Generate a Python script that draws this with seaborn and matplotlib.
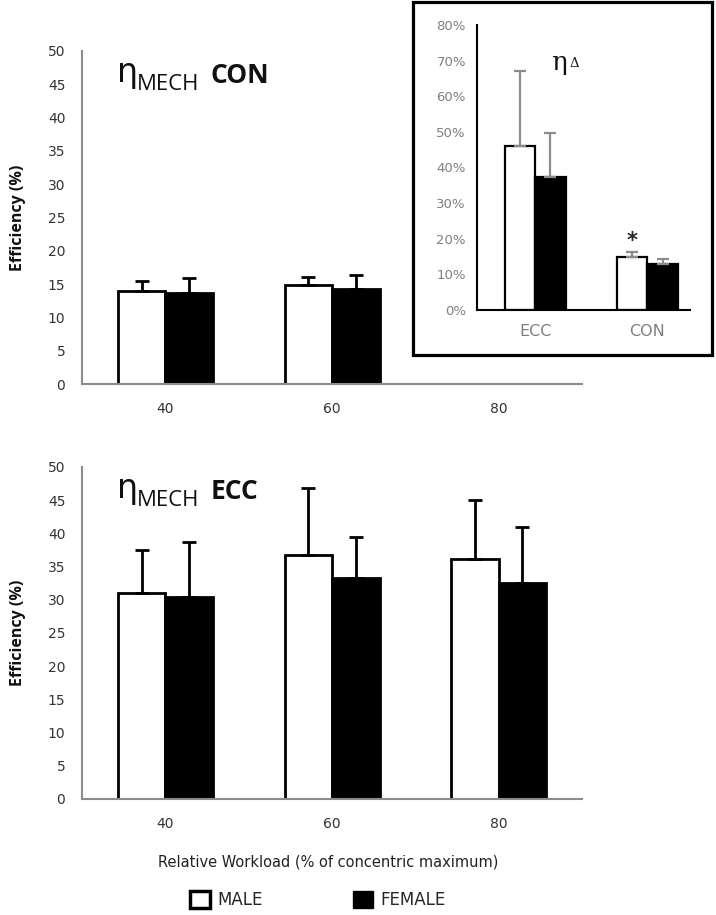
import numpy as np
import pandas as pd
import matplotlib
matplotlib.use("Agg")
import matplotlib.pyplot as plt
import seaborn as sns
from matplotlib.patches import Patch, Rectangle
from matplotlib.ticker import MultipleLocator, FixedLocator, PercentFormatter

# =========================
# DATA
# =========================
loads = ["40", "60", "80"]
sexes = ["MALE", "FEMALE"]

con_loads = ["40", "60"]
con_male = [14.0, 14.8]
con_male_sd = [1.5, 1.3]
con_female = [13.6, 14.2]
con_female_sd = [2.3, 2.1]

ecc_loads = ["40", "60", "80"]
ecc_male = [31.0, 36.8, 36.2]
ecc_male_sd = [6.5, 10.0, 8.8]
ecc_female = [30.4, 33.3, 32.5]
ecc_female_sd = [8.3, 6.2, 8.5]

delta_groups = ["ECC", "CON"]
delta_male = [0.46, 0.149]
delta_male_sd = [0.21, 0.014]
delta_female = [0.374, 0.13]
delta_female_sd = [0.122, 0.013]

W, H = 716, 915


def px(x, y):
    # pixel position -> figure fraction
    return x / W, 1 - y / H


def frame(groups, male, msd, female, fsd):
    rows = []
    for g, v, s in zip(groups, male, msd):
        rows.append({"group": g, "sex": "MALE", "value": v, "sd": s})
    for g, v, s in zip(groups, female, fsd):
        rows.append({"group": g, "sex": "FEMALE", "value": v, "sd": s})
    return pd.DataFrame(rows)


def bars(ax, df, order, width, lw, ecolor, elw, cap):
    sns.barplot(data=df, x="group", y="value", hue="sex", order=order,
                hue_order=sexes, palette={"MALE": "white", "FEMALE": "black"},
                edgecolor="black", linewidth=lw, width=width, errorbar=None,
                legend=False, ax=ax)
    for cont, sex in zip(ax.containers, sexes):
        sub = df[df.sex == sex].set_index("group")
        for p in cont.patches:
            xc = p.get_x() + p.get_width() / 2
            g = order[int(round(xc))]
            ax.errorbar(xc, p.get_height(), yerr=[[0], [sub.loc[g, "sd"]]],
                        fmt="none", ecolor=ecolor, elinewidth=elw,
                        capsize=cap, capthick=elw, zorder=3)


def style_main(ax):
    ax.set_ylim(0, 50)
    ax.set_xlim(-0.5, 2.5)
    ax.yaxis.set_major_locator(MultipleLocator(5))
    ax.set_xticks([0, 1, 2], loads)
    ax.xaxis.set_minor_locator(FixedLocator([-0.5, 0.5, 1.5, 2.5]))
    ax.tick_params(axis="x", which="major", length=0, pad=13,
                   labelsize=10, labelcolor="#333333")
    ax.tick_params(axis="x", which="minor", length=6, width=1.5,
                   color="#8c8c8c", direction="out")
    ax.tick_params(axis="y", length=5, width=1.5, color="#8c8c8c",
                   direction="out", pad=7, labelsize=10, labelcolor="#333333")
    for s in ["top", "right"]:
        ax.spines[s].set_visible(False)
    for s in ["left", "bottom"]:
        ax.spines[s].set_color("#8c8c8c")
        ax.spines[s].set_linewidth(1.5)
    ax.set_xlabel("")
    ax.set_ylabel("Efficiency (%)", fontweight="bold", fontsize=11.5,
                  family="Open Sans", color="#111111")
    ax.yaxis.set_label_coords(-0.112, 0.5)


sns.set_style("white")
plt.rcParams["font.family"] = ["DejaVu Sans"]

fig = plt.figure(figsize=(W / 100, H / 100), dpi=100)

# =========================
# TOP: CON
# =========================
ax1 = fig.add_axes([82 / W, 1 - 384 / H, 500 / W, 333 / H])
bars(ax1, frame(con_loads, con_male, con_male_sd, con_female, con_female_sd),
     loads, 0.57, 2.0, "black", 2.0, 5)
style_main(ax1)

# =========================
# BOTTOM: ECC
# =========================
ax2 = fig.add_axes([82 / W, 1 - 799 / H, 500 / W, 332 / H])
bars(ax2, frame(ecc_loads, ecc_male, ecc_male_sd, ecc_female, ecc_female_sd),
     loads, 0.57, 2.0, "black", 2.0, 5)
style_main(ax2)

# panel titles
for top, word, wx in [(0, "CON", 210), (416, "ECC", 211)]:
    fig.text(*px(117, 82 + top), "η", fontsize=24, va="baseline",
             color="#111111")
    fig.text(*px(137, 90 + top), "MECH", fontsize=16, va="baseline",
             family="Open Sans", color="#111111")
    fig.text(*px(wx, 83 + top), word, fontsize=19, va="baseline",
             family="Open Sans", fontweight="bold", color="#111111")

# =========================
# INSET: delta
# =========================
box = Rectangle(px(413, 355), 299 / W, 353 / H, transform=fig.transFigure,
                facecolor="white", edgecolor="black", linewidth=2.3, zorder=1)
fig.add_artist(box)

ax3 = fig.add_axes([477 / W, 1 - 310 / H, 213 / W, 285 / H], zorder=3)
ax3.set_facecolor("white")
bars(ax3, frame(delta_groups, delta_male, delta_male_sd,
                delta_female, delta_female_sd),
     delta_groups, 0.54, 1.6, "#8c8c8c", 1.6, 4)
ax3.set_xlim(-0.52, 1.38)
ax3.set_ylim(0, 0.8)
ax3.yaxis.set_major_locator(MultipleLocator(0.1))
ax3.yaxis.set_major_formatter(PercentFormatter(1, decimals=0))
ax3.tick_params(axis="x", length=0, pad=10, labelsize=11.5,
                labelcolor="#7f7f7f")
ax3.tick_params(axis="y", length=5, width=1.3, color="black",
                direction="out", pad=3, labelsize=9.5, labelcolor="#7f7f7f")
for s in ["top", "right"]:
    ax3.spines[s].set_visible(False)
for s in ["left", "bottom"]:
    ax3.spines[s].set_color("black")
    ax3.spines[s].set_linewidth(1.5)
ax3.set_xlabel("")
ax3.set_ylabel("")

male_con_x = ax3.containers[0].patches[1]
ax3.text(male_con_x.get_x() + male_con_x.get_width() / 2, 0.195, "*",
         ha="center", va="center", fontsize=15, fontweight="bold")

fig.text(*px(551, 70), "η", fontsize=19, family="DejaVu Serif",
         va="baseline", color="#111111")
fig.text(*px(569, 67), "Δ", fontsize=9.5, family="DejaVu Serif",
         va="baseline", color="#111111")

# =========================
# X LABEL + LEGEND
# =========================
fig.text(*px(328, 862), "Relative Workload (% of concentric maximum)",
         ha="center", va="center", fontsize=10.5, color="#222222")

handles = [Patch(facecolor="white", edgecolor="black", linewidth=2.5),
           Patch(facecolor="black", edgecolor="black", linewidth=1)]
fig.legend(handles, sexes, loc="center", bbox_to_anchor=px(318, 900),
           ncol=2, frameon=False, fontsize=12, handlelength=1.2,
           handleheight=1.2, handletextpad=0.45, columnspacing=5.4)

fig.savefig("out.png", dpi=100)
